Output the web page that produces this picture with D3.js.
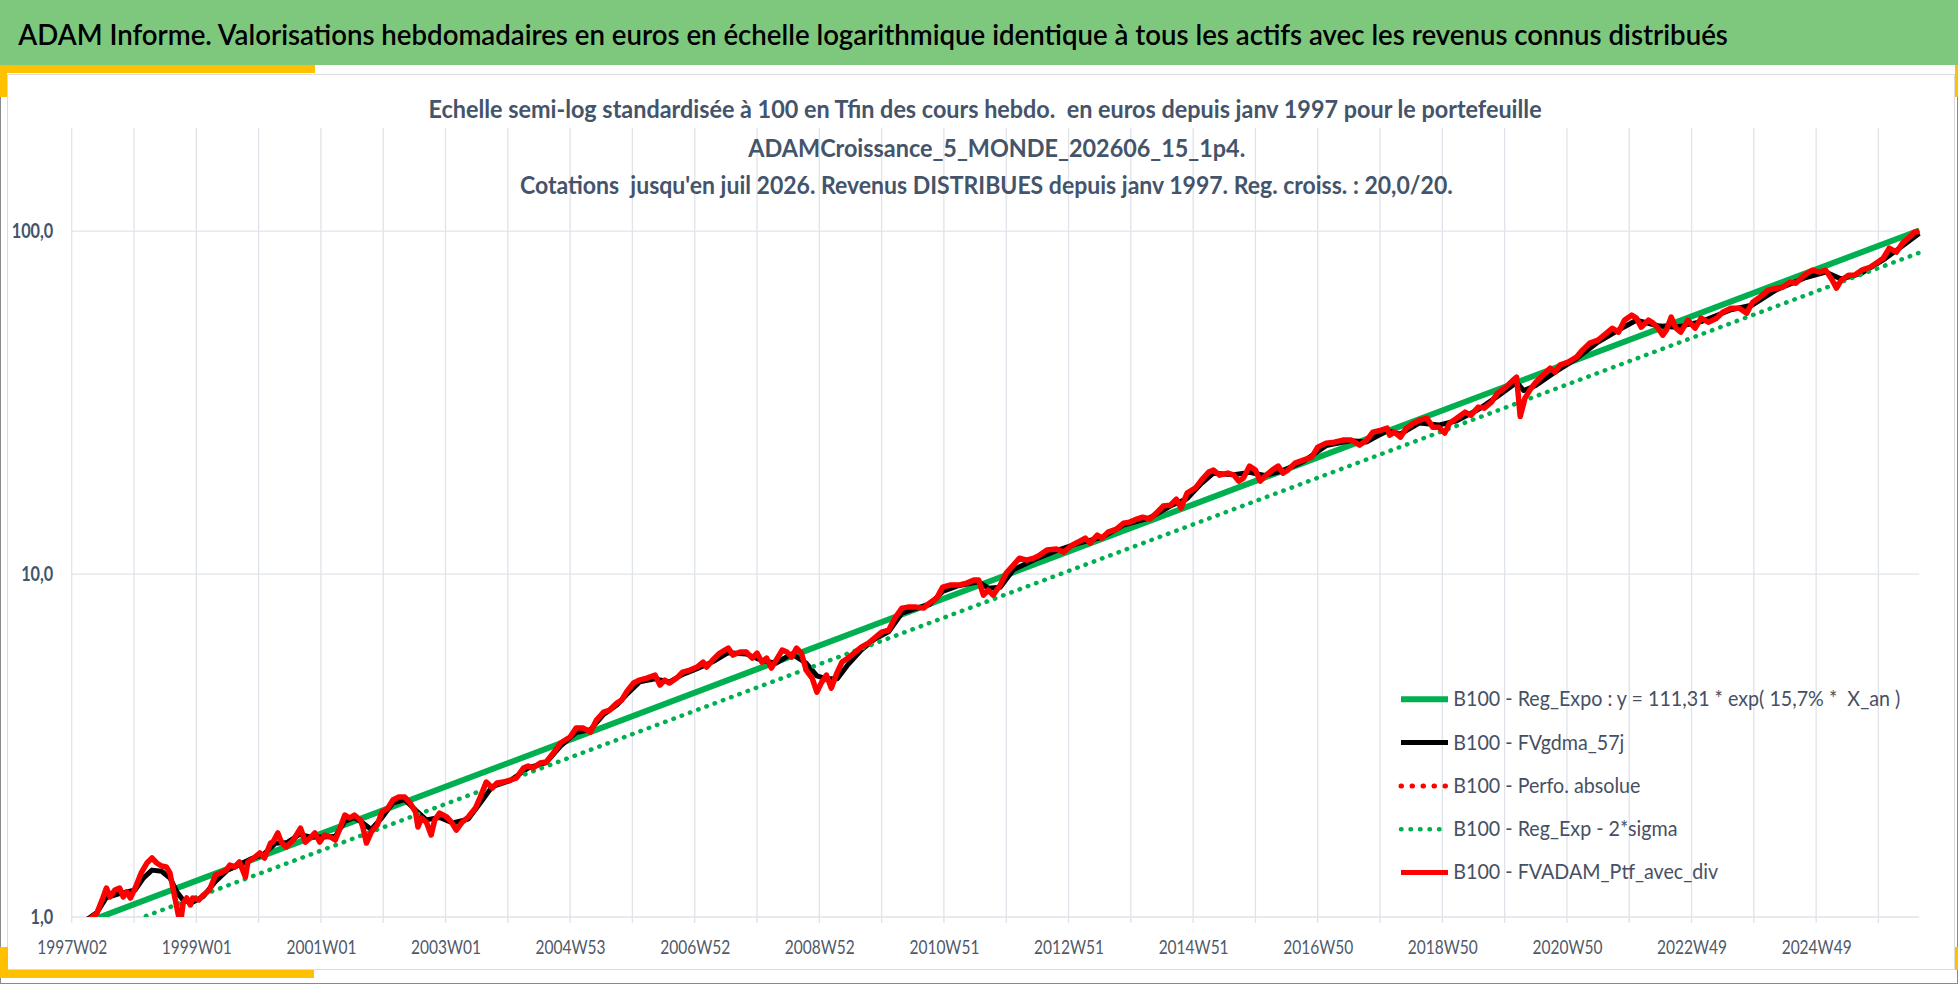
<!DOCTYPE html>
<html lang="fr">
<head>
<meta charset="utf-8">
<title>ADAM Informe - Valorisations hebdomadaires</title>
<script src="https://cdn.jsdelivr.net/npm/d3@7/dist/d3.min.js"></script>
<style>
  html, body { margin: 0; padding: 0; background: #fff; }
  svg { display: block; }
  text { font-family: Lato, "Open Sans", "DejaVu Sans", sans-serif; white-space: pre; }
</style>
</head>
<body>
<script>
// ---- data (week index since 1997W02, value base 100 at Tfin) ----
var xTickWeeks = [0, 104, 208, 312, 416, 520, 624, 728, 832, 936, 1040, 1144, 1248, 1352, 1456];
var xTickLabels = ["1997W02", "1999W01", "2001W01", "2003W01", "2004W53", "2006W52", "2008W52",
  "2010W51", "2012W51", "2014W51", "2016W50", "2018W50", "2020W50", "2022W49", "2024W49"];
var yTicks = [1, 10, 100];
var lastWeek = 1542;

// FVADAM_Ptf_avec_div (red)
var ptf = [[0,0.92],[14,0.98],[21,1.025],[26,1.136],[29,1.215],[32,1.144],[36,1.199],[40,1.215],[43,1.144],[46,1.183],[49,1.136],[53,1.215],[58,1.344],[63,1.44],[67,1.486],[71,1.437],[75,1.408],[79,1.399],[82,1.344],[86,1.144],[89,1.013],[91,0.97],[93,1.098],[96,1.136],[99,1.084],[101,1.136],[106,1.121],[110,1.159],[115,1.199],[120,1.326],[124,1.344],[129,1.371],[132,1.418],[136,1.399],[140,1.447],[145,1.308],[147,1.447],[152,1.486],[157,1.537],[161,1.486],[166,1.643],[168,1.654],[172,1.758],[175,1.654],[179,1.6],[185,1.677],[191,1.817],[195,1.654],[199,1.7],[203,1.758],[207,1.654],[211,1.734],[216,1.711],[220,1.677],[224,1.817],[228,1.983],[232,1.944],[236,1.983],[241,1.918],[243,1.83],[246,1.643],[250,1.769],[255,1.855],[259,2.024],[264,2.079],[268,2.193],[273,2.238],[278,2.238],[282,2.164],[287,2.024],[289,1.83],[292,1.944],[296,1.892],[300,1.734],[303,1.918],[307,2.01],[313,1.957],[317,1.892],[321,1.793],[326,1.892],[331,1.957],[337,2.079],[341,2.238],[346,2.475],[351,2.377],[355,2.459],[360,2.475],[366,2.508],[371,2.542],[377,2.719],[381,2.756],[385,2.719],[391,2.812],[396,2.831],[402,3.007],[408,3.216],[416,3.349],[421,3.556],[427,3.556],[433,3.462],[438,3.752],[444,3.961],[449,4.014],[455,4.206],[459,4.292],[463,4.529],[469,4.811],[474,4.909],[480,4.975],[487,5.076],[491,4.747],[495,4.909],[499,4.811],[505,4.975],[510,5.18],[516,5.25],[522,5.357],[527,5.54],[530,5.357],[535,5.615],[541,5.885],[548,6.086],[552,5.806],[558,5.925],[563,5.925],[568,5.69],[572,5.885],[576,5.54],[580,5.69],[584,5.321],[588,5.615],[593,6.004],[597,5.925],[601,5.728],[605,6.086],[609,5.885],[613,5.25],[618,4.975],[622,4.529],[626,4.843],[630,5.076],[634,4.652],[639,5.18],[643,5.54],[648,5.69],[654,5.925],[659,6.127],[665,6.294],[670,6.509],[676,6.776],[682,6.867],[687,7.441],[693,7.959],[698,8.012],[705,8.012],[711,7.959],[716,8.231],[722,8.511],[727,9.166],[733,9.289],[740,9.289],[747,9.414],[753,9.605],[757,9.605],[761,8.686],[765,8.984],[769,8.686],[775,9.289],[780,10.07],[786,10.62],[791,11.13],[797,10.98],[803,11.13],[808,11.36],[814,11.75],[822,11.83],[828,11.59],[835,12.15],[840,12.4],[846,12.74],[850,12.31],[856,12.99],[860,12.74],[865,13.26],[872,13.53],[878,14.08],[883,14.18],[889,14.47],[894,14.66],[900,14.47],[906,15.16],[911,15.79],[917,15.89],[922,16.55],[926,15.58],[931,17.23],[938,17.85],[943,18.8],[949,19.84],[953,20.1],[958,19.44],[965,19.71],[970,19.44],[974,18.67],[978,19.05],[983,20.65],[988,20.1],[992,18.67],[996,19.31],[1002,20.1],[1007,20.65],[1011,19.71],[1015,20.1],[1021,21.07],[1028,21.5],[1035,21.94],[1040,23.46],[1047,24.1],[1054,24.26],[1061,24.59],[1068,24.59],[1075,23.78],[1081,24.59],[1086,25.94],[1093,26.3],[1098,26.65],[1100,25.42],[1104,25.94],[1109,25.08],[1114,26.65],[1120,27.55],[1125,28.12],[1131,28.5],[1136,26.83],[1141,26.83],[1146,25.77],[1150,27.55],[1156,28.5],[1163,29.67],[1168,29.07],[1174,30.69],[1179,30.48],[1185,31.73],[1190,33.71],[1197,35.1],[1203,36.78],[1206,37.52],[1209,28.8],[1213,32.59],[1217,34.39],[1222,36.29],[1228,38.04],[1234,39.86],[1238,38.8],[1242,40.67],[1249,41.5],[1256,42.93],[1261,44.99],[1267,47.15],[1274,48.11],[1281,50.42],[1286,52.14],[1291,50.76],[1296,55.03],[1302,56.91],[1306,55.78],[1310,52.5],[1316,55.03],[1320,53.93],[1324,52.14],[1328,49.76],[1331,51.44],[1335,56.15],[1339,52.14],[1343,50.76],[1349,55.03],[1355,52.14],[1360,55.78],[1366,54.29],[1373,55.78],[1378,58.03],[1385,59.62],[1392,59.62],[1398,57.67],[1403,62.09],[1409,64.22],[1416,67.3],[1423,68.22],[1428,68.68],[1434,71.03],[1439,70.55],[1446,74.43],[1453,76.98],[1459,75.96],[1464,76.98],[1469,72.47],[1473,68.22],[1477,71.97],[1483,74.43],[1488,74.43],[1494,76.98],[1501,78.52],[1506,80.66],[1512,83.42],[1517,89.2],[1523,86.85],[1528,92.26],[1534,96.05],[1538,99.3],[1542,100]];

// FVgdma_57j (black, smoothed)
var gdma = [[0,0.93],[14,0.99],[21,1.03],[29,1.14],[40,1.17],[53,1.2],[60,1.3],[67,1.37],[75,1.36],[82,1.3],[88,1.18],[93,1.12],[100,1.1],[110,1.15],[120,1.27],[130,1.37],[140,1.42],[150,1.48],[160,1.52],[170,1.64],[180,1.65],[190,1.74],[200,1.71],[210,1.71],[220,1.72],[228,1.9],[236,1.95],[243,1.88],[250,1.8],[259,1.95],[268,2.15],[278,2.2],[287,2.05],[296,1.92],[307,1.95],[318,1.88],[331,1.93],[341,2.15],[351,2.4],[366,2.5],[381,2.72],[396,2.82],[408,3.15],[421,3.45],[433,3.52],[444,3.9],[455,4.15],[463,4.45],[474,4.85],[487,4.95],[499,4.85],[510,5.1],[522,5.3],[535,5.55],[548,5.9],[563,5.85],[576,5.6],[588,5.5],[601,5.85],[613,5.5],[622,5.05],[630,4.95],[639,4.95],[648,5.45],[659,6.0],[670,6.45],[682,6.8],[693,7.7],[705,7.95],[716,8.15],[727,8.9],[740,9.25],[757,9.5],[765,9.1],[775,9.15],[786,10.3],[803,11.0],[822,11.7],[840,12.3],[860,12.8],[878,13.9],[900,14.6],[917,15.8],[931,16.6],[943,18.4],[953,19.7],[970,19.5],[983,19.8],[996,19.4],[1011,20.0],[1028,21.3],[1047,23.7],[1068,24.5],[1081,24.3],[1098,26.2],[1109,25.6],[1125,27.6],[1141,27.2],[1156,28.0],[1174,30.2],[1190,33.0],[1206,36.2],[1212,34.3],[1222,35.5],[1238,38.8],[1256,42.5],[1274,47.5],[1291,51.5],[1306,55.0],[1324,53.0],[1339,52.5],[1360,54.5],[1385,59.0],[1403,61.0],[1423,67.5],[1446,73.0],[1464,76.0],[1477,72.5],[1494,75.5],[1512,82.5],[1528,90.5],[1542,98.5]];

// Reg_Expo and Reg_Exp - 2*sigma (end points read on the picture)
var regExpo = [[0,0.93],[1542,100.5]];
var regSigma = [[0,0.835],[1542,86.5]];

var legendLabels = [
  "B100 - Reg_Expo : y = 111,31 * exp( 15,7% *  X_an )",
  "B100 - FVgdma_57j",
  "B100 - Perfo. absolue",
  "B100 - Reg_Exp - 2*sigma",
  "B100 - FVADAM_Ptf_avec_div"
];
var titleText = "ADAM Informe. Valorisations hebdomadaires en euros en échelle logarithmique identique à tous les actifs avec les revenus connus distribués";
var subtitleLines = [
  "Echelle semi-log standardisée à 100 en Tfin des cours hebdo.  en euros depuis janv 1997 pour le portefeuille",
  "ADAMCroissance_5_MONDE_202606_15_1p4.",
  "Cotations  jusqu'en juil 2026. Revenus DISTRIBUES depuis janv 1997. Reg. croiss. : 20,0/20."
];

// ---- drawing ----
var W = 1958, H = 984;
var green = "#00b050", red = "#ff0000";

var svg = d3.select("body").append("svg")
  .attr("width", W)
  .attr("height", H);

// frame
svg.append("rect").attr("x", 0.5).attr("y", 0.5).attr("width", W - 1).attr("height", H - 1)
  .attr("fill", "#fff").attr("stroke", "#8a8a8a");
svg.append("rect").attr("x", 0).attr("y", 0).attr("width", W).attr("height", 65).attr("fill", "#7ec87e");
svg.append("rect").attr("x", 7.5).attr("y", 74.5).attr("width", 1947).attr("height", 895)
  .attr("fill", "#fff").attr("stroke", "#dcdcdc");
var yellow = "#ffc000";
[[0, 65, 315, 8], [0, 65, 7, 32], [1955, 65, 3, 32], [0, 970, 314, 8], [0, 947, 8, 31], [1955, 947, 3, 23]]
  .forEach(function (r) {
    svg.append("rect").attr("x", r[0]).attr("y", r[1]).attr("width", r[2]).attr("height", r[3]).attr("fill", yellow);
  });

// scales
var x = d3.scaleLinear().domain([0, lastWeek]).range([71.7, 71.7 + lastWeek * 1.1981]);
var y = d3.scaleLog().domain([1, 200]).range([917, 128]);

// gridlines
var grid = svg.append("g").attr("stroke", "#dfe3ea").attr("stroke-width", 1.3);
grid.selectAll(".vg").data(d3.range(0, lastWeek, 52)).enter().append("line")
  .attr("x1", function (d) { return x(d); }).attr("x2", function (d) { return x(d); })
  .attr("y1", y(200)).attr("y2", y(1) + 6);
grid.selectAll(".hg").data(yTicks).enter().append("line")
  .attr("x1", x(0)).attr("x2", x(lastWeek))
  .attr("y1", function (d) { return y(d); }).attr("y2", function (d) { return y(d); });

// helper: squeeze text horizontally to fit a width read on the picture
function squeeze(node, width) {
  var len = node.getComputedTextLength();
  return width / len;
}

// title
var title = svg.append("text").attr("font-size", 28).attr("font-weight", 600).attr("fill", "#000").text(titleText);
var sxT = squeeze(title.node(), 1711);
title.attr("transform", "translate(18.3,45) scale(" + sxT + ",1)");

// subtitle
var subPos = [[428.5, 118, 1114], [748.3, 156.5, null], [520, 194, 933]];
var sxSub = 1;
subtitleLines.forEach(function (s, i) {
  var t = svg.append("text").attr("font-size", 24.5).attr("font-weight", 700).attr("fill", "#44546a").text(s);
  var sx = subPos[i][2] ? squeeze(t.node(), subPos[i][2]) : sxSub;
  if (i === 0) sxSub = sx;
  t.attr("transform", "translate(" + subPos[i][0] + "," + subPos[i][1] + ") scale(" + sx + ",1)");
});

// x axis labels
var xAxis = svg.append("g").attr("transform", "translate(0," + y(1) + ")")
  .call(d3.axisBottom(x).tickValues(xTickWeeks)
    .tickFormat(function (d, i) { return xTickLabels[i]; })
    .tickSize(0).tickPadding(23));
xAxis.select(".domain").remove();
xAxis.selectAll("text").attr("font-family", null).attr("font-size", 19.5).attr("fill", "#4f5866");
var sxX = squeeze(xAxis.selectAll("text").nodes()[14], 70);
xAxis.selectAll("text").attr("transform", "scale(" + sxX + ",1)");

// y axis labels
var fr = d3.formatLocale({ decimal: ",", thousands: " ", grouping: [3], currency: ["", " €"] });
var yAxis = svg.append("g").attr("transform", "translate(53.3,0)")
  .call(d3.axisLeft(y).tickValues(yTicks).tickFormat(fr.format(".1f")).tickSize(0).tickPadding(0));
yAxis.select(".domain").remove();
yAxis.selectAll("text").attr("font-size", 20).attr("font-weight", 700).attr("fill", "#44546a");
var sxY = squeeze(yAxis.selectAll("text").nodes()[2], 41.6);
yAxis.selectAll("text").attr("transform", "scale(" + sxY + ",1)");

// series
svg.append("clipPath").attr("id", "plotclip").append("rect")
  .attr("x", x(0)).attr("y", y(200)).attr("width", x(lastWeek) - x(0) + 2).attr("height", y(1) - y(200));
var plot = svg.append("g").attr("clip-path", "url(#plotclip)").attr("fill", "none")
  .attr("stroke-linejoin", "round");
var line = d3.line().x(function (d) { return x(d[0]); }).y(function (d) { return y(d[1]); });

plot.append("path").datum(regExpo).attr("d", line).attr("stroke", green).attr("stroke-width", 6);
plot.append("path").datum(gdma).attr("d", line).attr("stroke", "#000").attr("stroke-width", 5);
plot.append("path").datum(ptf).attr("d", line).attr("stroke", red).attr("stroke-width", 4.5)
  .attr("stroke-dasharray", "0.5 8.5").attr("stroke-linecap", "round");
plot.append("path").datum(regSigma).attr("d", line).attr("stroke", green).attr("stroke-width", 4.5)
  .attr("stroke-dasharray", "0.5 8.3").attr("stroke-linecap", "round");
plot.append("path").datum(ptf).attr("d", line).attr("stroke", red).attr("stroke-width", 5.5);

// legend
var legStyles = [
  { c: green, w: 6, dash: null },
  { c: "#000", w: 5, dash: null },
  { c: red, w: 5, dash: "0.5 10.5" },
  { c: green, w: 4.5, dash: "0.5 9" },
  { c: red, w: 5, dash: null }
];
var legend = svg.append("g");
var sxL = 1;
legendLabels.forEach(function (lab, i) {
  var yy = 699.3 + i * 43.3;
  var st = legStyles[i];
  legend.append("line").attr("x1", 1401).attr("x2", 1448).attr("y1", yy).attr("y2", yy)
    .attr("stroke", st.c).attr("stroke-width", st.w)
    .attr("stroke-dasharray", st.dash).attr("stroke-linecap", st.dash ? "round" : "butt");
  var t = legend.append("text").attr("font-size", 21.5).attr("fill", "#475063").text(lab);
  if (i === 0) sxL = squeeze(t.node(), 447);
  t.attr("transform", "translate(1453.3," + (yy + 6.9) + ") scale(" + sxL + ",1)");
});
</script>
</body>
</html>
